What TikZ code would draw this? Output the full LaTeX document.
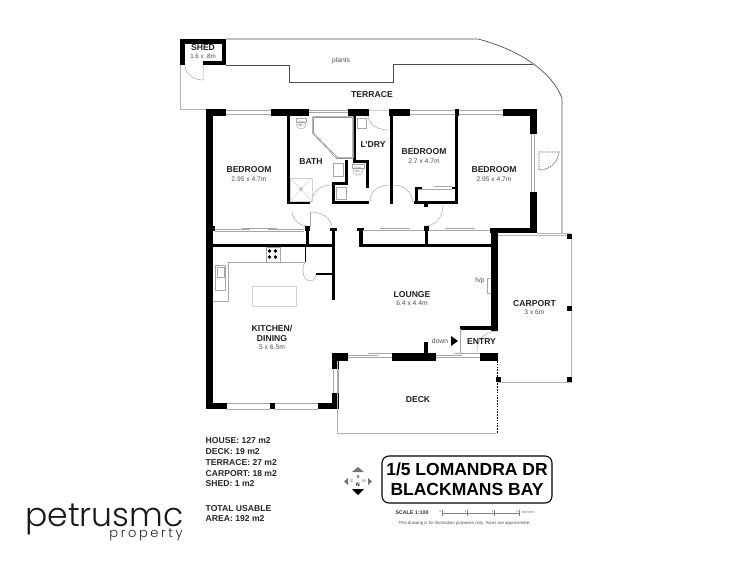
\documentclass[tikz,border=0pt]{standalone}
\usepackage{fontspec}
\setmainfont{Liberation Sans}
\newfontfamily\logofont{Poppins Light}
\tikzset{
  wall/.style={fill=black,draw=none},
  outline/.style={draw=black!70,line width=0.7pt},
  pale/.style={draw=black!30,line width=0.7pt},
  fixture/.style={draw=black!35,line width=0.5pt},
  faint/.style={draw=black!18,line width=0.5pt},
  win/.style={draw=black!35,line width=0.5pt},
  room/.style={font=\bfseries\fontsize{8.6}{10}\selectfont,text=black!88,inner sep=0pt,align=center},
  dim/.style={font=\fontsize{6.7}{8}\selectfont,text=black!70,inner sep=0pt},
  stat/.style={font=\bfseries\fontsize{8.6}{10}\selectfont,text=black!85,inner sep=0pt,anchor=west},
  wclabel/.style={font=\fontsize{3.4}{4}\selectfont,text=black!60,inner sep=0pt},
  ticklabel/.style={font=\fontsize{3}{3}\selectfont,inner sep=0pt,text=black!60}
}
\begin{document}
\begin{tikzpicture}[x=1pt,y=-1pt]
\useasboundingbox (0,0) rectangle (750,562);
% terrace and outer lines
\draw[outline] (226,39) -- (478,39) .. controls (520,50) and (552,72) .. (562,98) -- (562,233);
\draw[outline] (226,65) -- (289,65) -- (289,82) -- (393,82) -- (393,64) -- (533,64);
\draw[pale] (180,65) -- (180,109) -- (206,109);
% shed
\fill[wall] (180,39) rectangle (226,65);
\fill[white] (185,44) rectangle (222,61);
\fill[white] (185,61) rectangle (203,65);
\draw[fixture] (203,65) -- (203,80) arc (90:180:18 and 15);
% outer walls
\fill[wall] (206,109) rectangle (213,409);
\fill[wall] (206,109) rectangle (226,116);
\fill[wall] (271,109) rectangle (309,116);
\fill[wall] (348,109) rectangle (369,116);
\fill[wall] (389,109) rectangle (410,116);
\fill[wall] (503,109) rectangle (537,116);
\fill[wall] (530,109) rectangle (537,134);
\fill[wall] (530,192) rectangle (537,233);
\fill[wall] (490,228) rectangle (537,233);
\fill[wall] (491,228) rectangle (498,331);
\fill[wall] (455,109) rectangle (459,116);
% top windows
\foreach \a/\b in {226/271,410/455,459/503}{
  \draw[win] (\a,110) -- (\b,110) (\a,114.5) -- (\b,114.5);
}
\draw[win] (309,110) -- (348,110) (309,112.5) -- (348,112.5);
\draw[faint] (369,110) -- (389,110);
% right window
\draw[win] (531,134) -- (531,192) (534,134) -- (534,192);
% bath walls
\fill[wall] (286.5,109) rectangle (289.5,204);
\fill[wall] (286.5,201) rectangle (310,204);
\fill[wall] (353,116) rectangle (355.5,162);
\fill[wall] (353,160) rectangle (368.5,163);
\fill[wall] (366,160) rectangle (368.5,188);
\fill[wall] (345,160) rectangle (347.5,184);
\fill[wall] (332,182) rectangle (347.5,185);
\fill[wall] (332,182) rectangle (335,204);
\fill[wall] (332,201) rectangle (369,204);
\fill[wall] (390,109) rectangle (393,204);
\fill[wall] (455,109) rectangle (458,204);
\fill[wall] (414,201) rectangle (458,204);
\fill[wall] (415,187) rectangle (418,204);
\fill[wall] (418,187) rectangle (422,189);
\fill[wall] (452,187) rectangle (455,189);
\draw[win] (418,189) -- (452,189) (434,186.5) -- (452,186.5);
% shower
\draw[draw=black!65,line width=1.5pt] (313,117) -- (353,117) -- (353,158) -- (337,158) -- (313,133) -- cycle;
\draw[draw=white,line width=0.6pt] (313,117) -- (353,117) -- (353,158) -- (337,158) -- (313,133) -- cycle;
% corridor walls
\fill[wall] (213,243.5) rectangle (335,247);
\fill[wall] (305.5,228) rectangle (309,245);
\fill[wall] (304.5,226) rectangle (310,231);
\fill[wall] (331.5,228) rectangle (335,300);
\fill[wall] (329.5,228) rectangle (336.5,231);
\fill[wall] (213,226) rectangle (214.5,231);
\fill[wall] (359,228) rectangle (363,245);
\fill[wall] (356.5,228) rectangle (363.5,231);
\fill[wall] (359,243.5) rectangle (491,247);
\fill[wall] (424.5,226) rectangle (428,245);
\fill[wall] (423.5,226) rectangle (429,231);
\fill[wall] (424,203) rectangle (428,207);
\draw[win] (215,231) -- (304,231) (242,228) -- (277,228) (215,229) -- (250,229) (268,229) -- (304,229);
\draw[win] (363,230) -- (424,230) (429,230) -- (490,230) (380,228) -- (410,228) (445,228) -- (475,228);
% doors
\draw[fixture] (312,202) .. controls (312,192) and (320,185) .. (332,185);
\draw[fixture] (292,212) .. controls (293,220) and (300,226) .. (307,226);
\draw[fixture] (310,212) -- (310,227);
\draw[fixture] (310,212) .. controls (322,212) and (331,218) .. (332,227);
\draw[fixture] (370,202) .. controls (370,191) and (378,185) .. (390,185);
\draw[fixture] (393,185) .. controls (404,185) and (412,192) .. (413,202);
\draw[fixture] (426,226) .. controls (436,225) and (443,217) .. (443,205);
\draw[fixture] (368,116) .. controls (369,125) and (378,130) .. (389,130);
% kitchen
\draw[fixture] (228,262) -- (305,262) (228,262) -- (228,301) -- (213,301);
\fill[wall] (304.5,245) rectangle (305.5,262);
\draw[fixture] (266,247) rectangle (280,262);
\foreach \x/\y in {269.5/251,275.5/251,269.5/257,275.5/257}{\fill (\x,\y) circle (1.9);}
\draw[fixture] (215,265) rectangle (225,290);
\draw[fixture] (217,267) rectangle (224,277);
\draw[faint] (252,286) rectangle (296,306);
\draw[fixture] (305,262) .. controls (301,270) and (303,280) .. (310,281) .. controls (314,281) and (316,277) .. (316,274);
\fill[wall] (316,273) rectangle (333,275);
% lower kitchen
\fill[wall] (332,353) rectangle (348,361);
\fill[wall] (332,353) rectangle (339,369);
\fill[wall] (332,393) rectangle (339,409);
\fill[wall] (206,403) rectangle (227,409);
\fill[wall] (270,403) rectangle (275,409);
\fill[wall] (318,403) rectangle (339,409);
\draw[win] (333,369) -- (333,393) (338,369) -- (338,393);
\draw[win] (227,403) -- (270,403) (227,409) -- (270,409) (275,403) -- (318,403) (275,409) -- (318,409);
% lounge south
\fill[wall] (392,353) rectangle (436,361);
\fill[wall] (424,342) rectangle (428,353);
\fill[wall] (480,353) rectangle (498,361);
\fill[wall] (460,326) rectangle (491,329.5);
\draw[win] (348,355) -- (378,355) (368,353) -- (392,353) (348,357) -- (392,357);
\draw[win] (436,357) -- (480,357) (436,355) -- (462,355) (454,353) -- (480,353);
\draw[fixture] (460,329) -- (460,353);
\draw[fixture] (497,331) .. controls (484,332) and (476,340) .. (477,353);
\fill[wall] (451,336) -- (458,341) -- (451,346) -- cycle;
\draw[fixture] (487,278) -- (491,278) (487,278) -- (487,293) -- (491,293);
% deck
\draw[pale] (337,361) -- (337,433) -- (497,433);
\draw[black,line width=0.7pt,dash pattern=on 1.6pt off 1.2pt] (497,361) -- (497,433);
% carport
\draw[pale] (537,233) -- (571,233) (498,235) -- (571,235) -- (571,382) -- (498,382);
\foreach \x/\y in {569/236,569/308,569/379,498/379}{\fill (\x-2.5,\y-2.5) rectangle (\x+2.5,\y+2.5);}
% terrace door
\draw[black!70,line width=0.7pt,dash pattern=on 1.2pt off 1pt] (560,152) -- (539,152) -- (539,170) .. controls (550,170) and (558,162) .. (559,152);
% fixtures
\draw[fixture] (296,118) rectangle (306,122);
\draw[fixture] (301,125) ellipse (4.5 and 4);
\node[wclabel] (wcone) at (301,125) {WC};
\draw[fixture] (357,118) rectangle (366,128);
\draw[fixture] (333,163) rectangle (343,176);
\draw[fixture] (336,187) rectangle (346,199);
\draw[fixture] (352,164) rectangle (364,168);
\draw[fixture] (358,171) ellipse (5 and 4);
\node[wclabel] (wcthree) at (358,171.5) {WC};
\draw[faint] (290,178) rectangle (312,201);
\draw[faint] (290,178) -- (312,201) (312,178) -- (290,201);
\draw[fixture] (301,189) circle (1.5);
% texts
\node[room] (shed) at (203,47.5) {SHED};
\node[dim,font=\fontsize{6.2}{7}\selectfont] (shedd) at (203,56.5) {1.6 x .8m};
\node[dim] (plants) at (341,60.5) {plants};
\node[room] (terrace) at (372,95) {TERRACE};
\node[room] (b1) at (249,170) {BEDROOM};
\node[dim] (b1d) at (249,179.5) {2.95 x 4.7m};
\node[room] (bath) at (311,162) {BATH};
\node[room] (ldry) at (373,144.5) {L'DRY};
\node[room] (b2) at (424,152) {BEDROOM};
\node[dim] (b2d) at (424,161.5) {2.7 x 4.7m};
\node[room] (b3) at (494,170) {BEDROOM};
\node[dim] (b3d) at (494,179.5) {2.95 x 4.7m};
\node[room] (kit) at (272,333) {KITCHEN/\\DINING};
\node[dim] (kitd) at (272,347) {5 x 6.5m};
\node[room] (lounge) at (412,294.5) {LOUNGE};
\node[dim] (lounged) at (412,303.5) {6.4 x 4.4m};
\node[room] (entry) at (481.5,341.5) {ENTRY};
\node[room] (carport) at (534.5,303.5) {CARPORT};
\node[dim] (carportd) at (534.5,312.5) {3 x 6m};
\node[room] (deck) at (418,400) {DECK};
\node[dim] (down) at (440,341) {down};
\node[dim] (hp) at (480,281) {h/p};
% stats
\node[stat] (s1) at (205.5,441) {HOUSE: 127 m2};
\node[stat] (s2) at (205.5,451.7) {DECK: 19 m2};
\node[stat] (s3) at (205.5,463) {TERRACE: 27 m2};
\node[stat] (s4) at (205.5,474) {CARPORT: 18 m2};
\node[stat] (s5) at (205.5,483.7) {SHED: 1 m2};
\node[stat] (s6) at (205.5,508.3) {TOTAL USABLE};
\node[stat] (s7) at (205.5,518.7) {AREA: 192 m2};
% title
\node[draw=black,line width=1.1pt,rounded corners=7pt,minimum width=170pt,minimum height=47pt,inner sep=0pt,align=center,font=\bfseries\fontsize{17.5}{20.3}\selectfont] (title) at (467,479.5) {1/5 LOMANDRA DR\\BLACKMANS BAY};
% compass
\fill[black!55] (352,472) -- (358,467) -- (364,472) -- cycle;
\fill[black] (352,489) -- (358,495) -- (364,489) -- cycle;
\fill[black!55] (348,478) -- (344,481.5) -- (348,485) -- cycle;
\fill[black!55] (368,478) -- (372,481.5) -- (368,485) -- cycle;
\node[font=\bfseries\fontsize{4.5}{5}\selectfont,inner sep=0pt,text=black!70] (cs) at (358,477) {S};
\node[font=\bfseries\fontsize{5}{5}\selectfont,inner sep=0pt] (cn) at (358,484.5) {N};
\node[font=\fontsize{4}{4}\selectfont,inner sep=0pt,text=black!60] (ce) at (352,481) {E};
\node[font=\fontsize{4}{4}\selectfont,inner sep=0pt,text=black!60] (cw) at (364,481) {W};
% scale
\node[font=\bfseries\fontsize{5.3}{6}\selectfont,inner sep=0pt,text=black!80] (scale) at (412,513) {SCALE 1:100};
\draw[black!50,line width=0.4pt] (442,513) -- (519,513) (442,510) -- (442,516) (467,510) -- (467,516) (494,510) -- (494,516) (519,510) -- (519,516);
\node[ticklabel] (m0) at (440.5,511) {0};
\node[ticklabel] (m1) at (465.5,511) {1};
\node[ticklabel] (m2) at (492.5,511) {2};
\node[ticklabel] (m3) at (517.5,511) {3};
\node[ticklabel,anchor=west] (mt) at (522,512) {METRES};
\node[font=\fontsize{4.37}{5}\selectfont,inner sep=0pt,text=black!70] (disc) at (464.5,523.5) {This drawing is for illustration purposes only. Sizes are approximate.};
% logo
\node[font=\logofont\fontsize{33}{33}\selectfont,inner sep=0pt,anchor=base west,text=black!90] (logo) at (25,526) {petrusmc};
\node[font=\logofont\fontsize{13}{13}\selectfont\addfontfeature{LetterSpace=20},inner sep=0pt,anchor=base east,text=black!85] (prop) at (183,537.5) {property};
\end{tikzpicture}
\end{document}
